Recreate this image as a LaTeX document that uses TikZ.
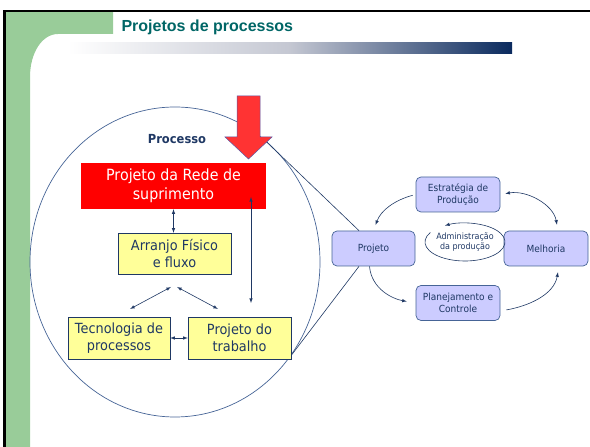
\documentclass[tikz,border=0pt]{standalone}
\usepackage{fontspec}
\setmainfont{Liberation Sans}
\newfontfamily\boxfont[FakeStretch=0.92]{DejaVu Sans}
\usetikzlibrary{shapes.geometric}
\definecolor{slidegreen}{RGB}{153,204,153}
\definecolor{titleteal}{RGB}{0,102,102}
\definecolor{barnavy}{RGB}{10,42,94}
\definecolor{bargray}{RGB}{196,199,210}
\definecolor{textnavy}{RGB}{31,56,100}
\definecolor{boxyellow}{RGB}{255,255,153}
\definecolor{boxlilac}{RGB}{204,204,255}
\definecolor{arrowred}{RGB}{255,51,51}
\definecolor{lensblue}{RGB}{70,100,150}

\begin{document}
\begin{tikzpicture}[x=1pt,y=1pt,
    yellowbox/.style={draw=textnavy, fill=boxyellow, text=textnavy, align=center, inner sep=0pt,
      minimum height=42, font=\boxfont\fontsize{14}{17}\selectfont},
    lilacbox/.style={draw=lensblue, line width=0.7pt, fill=boxlilac, rounded corners=5pt, text=textnavy, align=center,
      minimum width=84, minimum height=35, inner sep=0pt, font=\boxfont\fontsize{9.8}{12}\selectfont},
    link/.style={textnavy, line width=0.6pt, >=latex}]
  \useasboundingbox (0,0) rectangle (590,447);
  % slide frame
  \fill[slidegreen] (6,0) -- (6,436) -- (113,436) -- (113,413) -- (58,413)
    .. controls (42,413) and (30,394) .. (30,370) -- (30,0) -- cycle;
  \draw[line width=2.5pt] (4.5,0) -- (4.5,436) -- (590,436);
  \node[anchor=base west, text=titleteal, font=\bfseries\fontsize{16}{19}\selectfont] (titulo) at (118,415) {Projetos de processos};
  \shade[left color=white, right color=barnavy, middle color=bargray] (68,393) rectangle (512,404);

  % lens
  \node[ellipse, draw=lensblue, line width=0.7pt, minimum width=290, minimum height=310, inner sep=0pt] (lupa) at (175,185) {};
  \node[lilacbox, minimum width=83] (projeto) at (373.5,198.5) {Projeto};
  \draw[link] (lupa.55) -- ([xshift=-14.5pt]projeto.north);
  \draw[link] (lupa.-40) -- ([xshift=-14.5pt]projeto.south);
  \filldraw[fill=arrowred, draw=gray!70!blue, line width=0.5pt] (237,351) -- (260,351) -- (260,310) -- (272,310)
    -- (248.5,288) -- (225,310) -- (237,310) -- cycle;

  % processo
  \node[text=textnavy, font=\boxfont\bfseries\fontsize{12.5}{15}\selectfont] (processo) at (177,308) {Processo};
  \node[fill=red, text=white, align=center, minimum width=185, minimum height=46, inner sep=0pt,
    font=\boxfont\fontsize{15.5}{19}\selectfont] (rede) at (173.5,261) {Projeto da Rede de\\suprimento};
  \node[yellowbox, minimum width=113, minimum height=41] (arranjo) at (174.5,193.5) {Arranjo Físico\\e fluxo};
  \node[yellowbox, minimum width=102] (tecnologia) at (119,109) {Tecnologia de\\processos};
  \node[yellowbox, minimum width=103] (trabalho) at (239.5,109) {Projeto do\\trabalho};
  \coordinate (redealto) at (251,250);
  \coordinate (trabalhoalto) at (251,144);
  \coordinate (forkesq) at (171,160);
  \coordinate (forkdir) at (177,160);
  \coordinate (tecalto) at (130,138);
  \coordinate (trabfork) at (218,138);
  \draw[link,<->] (rede.south) -- (rede.south |- arranjo.north);
  \draw[link,<->] (redealto) -- (trabalhoalto);
  \draw[link,<->] (forkesq) -- (tecalto);
  \draw[link,<->] (forkdir) -- (trabfork);
  \draw[link,<->] (tecnologia) -- (trabalho);

  % ciclo
  \node[lilacbox] (estrategia) at (458,252.5) {Estratégia de\\Produção};
  \node[lilacbox] (melhoria) at (546,198.5) {Melhoria};
  \node[lilacbox] (planejamento) at (458,144) {Planejamento e\\Controle};
  \node[text=textnavy, align=center, inner sep=0pt, font=\boxfont\fontsize{8.7}{10}\selectfont] (admin) at (465,205) {Administração\\da produção};
  \draw[link,->] ([shift={(150:40 and 19)}]admin.center) arc[start angle=150, end angle=480, x radius=40, y radius=19];
  \draw[link,->,shorten <=3pt,shorten >=6pt] (estrategia.west) to[out=195,in=70] (projeto.north);
  \draw[link,<->,shorten <=5pt,shorten >=6pt] (estrategia.east) to[out=10,in=100] ([xshift=12pt]melhoria.north);
  \draw[link,->,shorten >=9pt] ([xshift=-4pt]projeto.south) to[out=-85,in=170] (planejamento.west);
  \draw[link,->,shorten <=6pt,shorten >=6pt] ([yshift=-8pt]planejamento.east) to[out=10,in=-100] ([xshift=13pt]melhoria.south);
\end{tikzpicture}
\end{document}
